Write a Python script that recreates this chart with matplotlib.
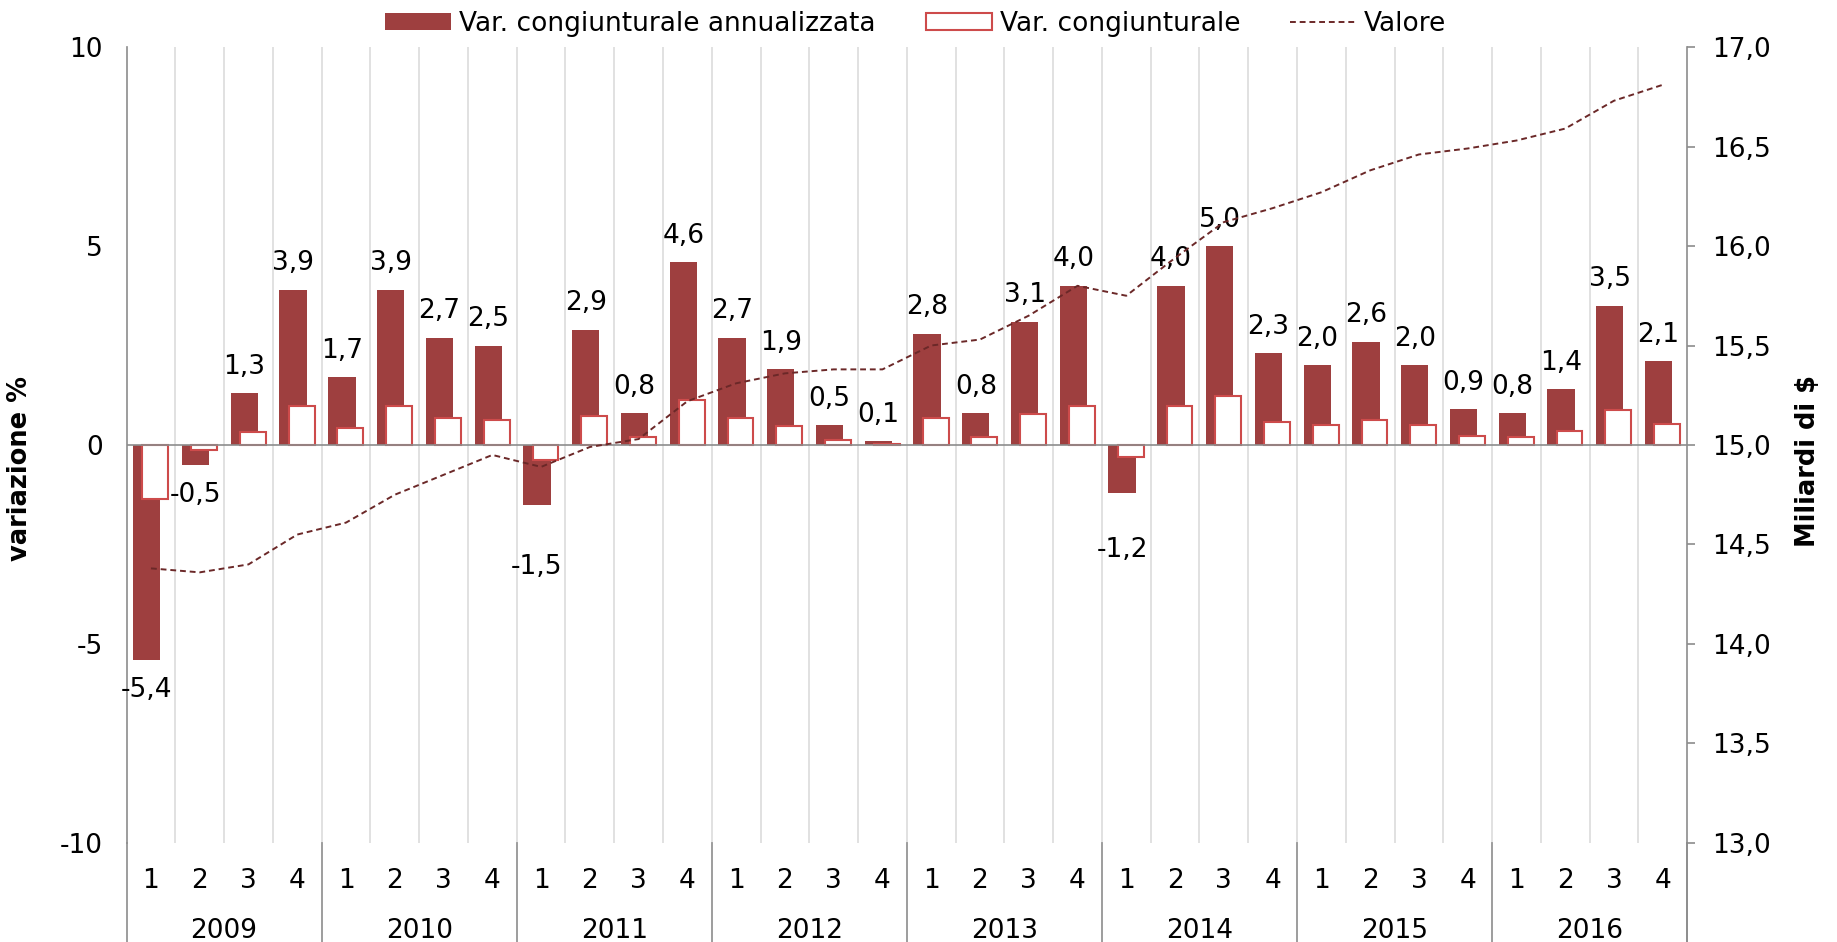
import numpy as np
import matplotlib
matplotlib.use('Agg')
import matplotlib.pyplot as plt
from matplotlib.patches import Patch
from matplotlib.lines import Line2D
import matplotlib.transforms as mtransforms

# dati
anni = ['2009', '2010', '2011', '2012', '2013', '2014', '2015', '2016']
trimestri = ['1', '2', '3', '4']
var_annualizzata = [-5.4, -0.5, 1.3, 3.9,
                    1.7, 3.9, 2.7, 2.5,
                    -1.5, 2.9, 0.8, 4.6,
                    2.7, 1.9, 0.5, 0.1,
                    2.8, 0.8, 3.1, 4.0,
                    -1.2, 4.0, 5.0, 2.3,
                    2.0, 2.6, 2.0, 0.9,
                    0.8, 1.4, 3.5, 2.1]
var_congiunturale = [-1.35, -0.13, 0.33, 0.97,
                     0.43, 0.97, 0.68, 0.62,
                     -0.37, 0.72, 0.21, 1.14,
                     0.67, 0.47, 0.13, 0.03,
                     0.69, 0.2, 0.77, 0.99,
                     -0.3, 0.99, 1.23, 0.57,
                     0.5, 0.64, 0.5, 0.22,
                     0.2, 0.35, 0.87, 0.52]
valore = [14.38, 14.36, 14.40, 14.55,
          14.61, 14.75, 14.85, 14.95,
          14.89, 14.99, 15.03, 15.22,
          15.31, 15.36, 15.38, 15.38,
          15.50, 15.53, 15.65, 15.80,
          15.75, 15.94, 16.12, 16.19,
          16.27, 16.38, 16.46, 16.49,
          16.53, 16.59, 16.73, 16.81]

rosso_scuro = '#9e3f3f'
rosso_bordo = '#cd4b4b'
linea_col = '#6b2828'
grigio = '#8c8c8c'
griglia = '#d9d9d9'

plt.rcParams['font.family'] = 'DejaVu Sans'
fs = 19

def fmt(v):
    return f'{v:.1f}'.replace('.', ',')

n = len(var_annualizzata)
x = np.arange(n)

fig = plt.figure(figsize=(18.37, 9.42), dpi=100)
ax = fig.add_axes([0.0689, 0.1051, 0.8495, 0.845])

# griglia verticale
for k in range(1, n):
    ax.axvline(k - 0.5, color=griglia, lw=1.1, zorder=0.5)
ax.axhline(0, color=grigio, lw=1.2, zorder=3)

ax.bar(x - 0.085, var_annualizzata, width=0.56, color=rosso_scuro, zorder=2)
ax.bar(x + 0.09, var_congiunturale, width=0.53, facecolor='white',
       edgecolor=rosso_bordo, lw=1.5, zorder=2.5)

# etichette dati
offset_neg = {8: -45, 20: -41}
for i, v in enumerate(var_annualizzata):
    if v >= 0:
        dy = 19
    else:
        dy = offset_neg.get(i, -22)
    ax.annotate(fmt(v), (x[i] - 0.085, v), xytext=(0, dy),
                textcoords='offset points', ha='center', va='center',
                fontsize=fs, zorder=4)

ax.set_xlim(-0.5, n - 0.5)
ax.set_ylim(-10, 10)
ax.set_yticks([-10, -5, 0, 5, 10])
ax.set_yticklabels(['-10', '-5', '0', '5', '10'])
ax.tick_params(axis='y', length=0, pad=17, labelsize=fs)
ax.set_xticks(x)
ax.set_xticklabels(trimestri * len(anni))
ax.tick_params(axis='x', length=0, pad=18, labelsize=fs)

for s in ['top', 'bottom', 'right']:
    ax.spines[s].set_visible(False)
ax.spines['left'].set_color(grigio)
ax.spines['left'].set_linewidth(1.2)

ax.set_ylabel('variazione %', fontsize=18.5, fontweight='bold')
ax.yaxis.set_label_coords(-0.06, 0.47)

# anni e separatori sotto l'asse
trans = mtransforms.blended_transform_factory(ax.transData, ax.transAxes)
for j, a in enumerate(anni):
    ax.text(4 * j + 1.5, -0.1106, a, transform=trans, ha='center',
            va='center', fontsize=fs)
for j in range(len(anni) + 1):
    ax.plot([4 * j - 0.5, 4 * j - 0.5], [0, -0.13], transform=trans,
            color=grigio, lw=1.2, clip_on=False)

# asse destro
ax2 = ax.twinx()
ax2.plot(x, valore, color=linea_col, lw=1.4, linestyle=(0, (3, 2)), zorder=5)
ax2.set_ylim(13, 17)
rt = np.arange(13, 17.01, 0.5)
ax2.set_yticks(rt)
ax2.set_yticklabels([fmt(v) for v in rt])
ax2.tick_params(axis='y', length=6, width=1.2, color=grigio, pad=12,
                labelsize=fs)
for s in ['top', 'bottom', 'left']:
    ax2.spines[s].set_visible(False)
ax2.spines['right'].set_color(grigio)
ax2.spines['right'].set_linewidth(1.2)
ax2.set_ylabel('Miliardi di $', fontsize=18.5, fontweight='bold')
ax2.yaxis.set_label_coords(1.069, 0.48)
ax2.plot([n - 0.5, n - 0.5], [0, -0.13],
         transform=mtransforms.blended_transform_factory(ax2.transData, ax2.transAxes),
         color=grigio, lw=1.2, clip_on=False)

handles = [Patch(facecolor=rosso_scuro, edgecolor='none'),
           Patch(facecolor='white', edgecolor=rosso_bordo, lw=1.5),
           Line2D([0], [0], color=linea_col, lw=1.4, linestyle=(0, (3, 2)))]
etichette = ['Var. congiunturale annualizzata', 'Var. congiunturale', 'Valore']
fig.legend(handles, etichette, loc='center', bbox_to_anchor=(0.4985, 0.975),
           ncol=3, frameon=False, fontsize=fs, handlelength=2.5,
           handleheight=0.6, handletextpad=0.3, columnspacing=1.9)

fig.savefig('out.png', dpi=100)
